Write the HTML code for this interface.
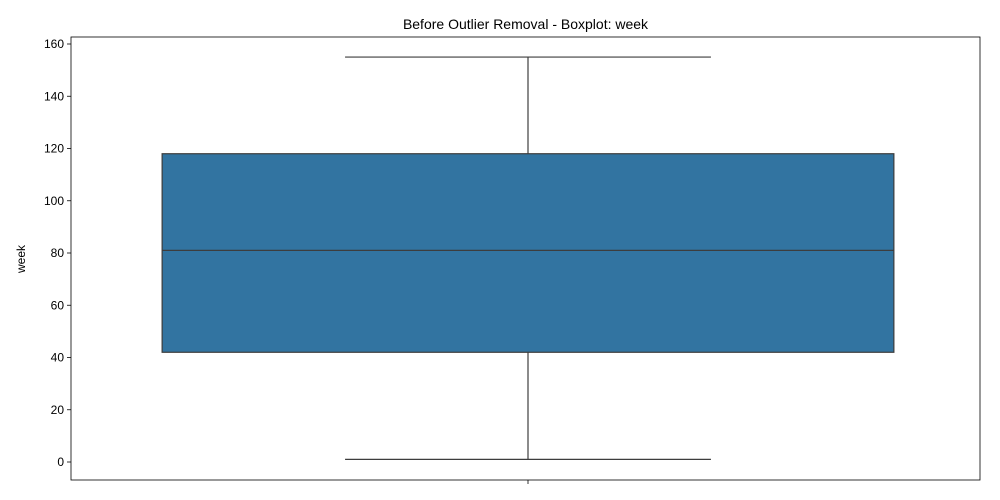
<!DOCTYPE html>
<html><head><meta charset="utf-8"><style>
body{margin:0;background:#fff;}
svg{display:block;font-family:"Liberation Sans","DejaVu Sans",sans-serif;}
</style></head><body>
<svg id="chart" width="1000" height="500"></svg>
<script>
const yTicks=[0,20,40,60,80,100,120,140,160];
const categories=["week"];
const whiskerLow=[1];
const q1=[42];
const median=[81];
const q3=[118];
const whiskerHigh=[155];

const NS="http://www.w3.org/2000/svg";
const svg=document.getElementById('chart');
const L=71,R=980,T=37,B=480;
function y(v){return 462-(v)*(418/160);}
function xc(i){return L+2.5+(R-L)*(i+0.5)/categories.length;}
function el(tag,attrs,parent){const e=document.createElementNS(NS,tag);for(const k in attrs)e.setAttribute(k,attrs[k]);(parent||svg).appendChild(e);return e;}

const title=el('text',{x:(L+R)/2,y:29,'text-anchor':'middle','font-size':14,fill:'#000'});


title.textContent='Before Outlier Removal - Boxplot: week';

const yl=el('text',{x:0,y:0,'text-anchor':'middle','font-size':12,fill:'#000',transform:'translate(25,259) rotate(-90)'});


yl.textContent='week';

yTicks.forEach(t=>{
  const g=el('g',{});
  
  
  el('line',{x1:L-4,x2:L,y1:y(t),y2:y(t),stroke:'#000','stroke-width':0.8},g);
  const tx=el('text',{x:L-7,y:y(t)+4,'text-anchor':'end','font-size':12,fill:'#000'},g);
  tx.textContent=t;
});

const bw=(R-L)/categories.length*0.805;
const cw=bw/2;
categories.forEach((c,i)=>{
  const cx=xc(i);
  const g=el('g',{});
  
  
  const s='#3d3d3d';
  el('line',{x1:cx,x2:cx,y1:y(whiskerLow[i]),y2:y(q1[i]),stroke:s,'stroke-width':1.2},g);
  el('line',{x1:cx,x2:cx,y1:y(q3[i]),y2:y(whiskerHigh[i]),stroke:s,'stroke-width':1.2},g);
  el('line',{x1:cx-cw/2,x2:cx+cw/2,y1:y(whiskerLow[i]),y2:y(whiskerLow[i]),stroke:s,'stroke-width':1.2},g);
  el('line',{x1:cx-cw/2,x2:cx+cw/2,y1:y(whiskerHigh[i]),y2:y(whiskerHigh[i]),stroke:s,'stroke-width':1.2},g);
  el('rect',{x:cx-bw/2,y:y(q3[i]),width:bw,height:y(q1[i])-y(q3[i]),fill:'#3274a1',stroke:s,'stroke-width':1.2},g);
  el('line',{x1:cx-bw/2,x2:cx+bw/2,y1:y(median[i]),y2:y(median[i]),stroke:s,'stroke-width':1.2},g);
  el('line',{x1:cx,x2:cx,y1:B,y2:B+4,stroke:'#000','stroke-width':0.8});
});

const frame=el('rect',{x:L,y:T,width:R-L,height:B-T,fill:'none',stroke:'#000','stroke-width':0.8});


</script>
</body></html>
